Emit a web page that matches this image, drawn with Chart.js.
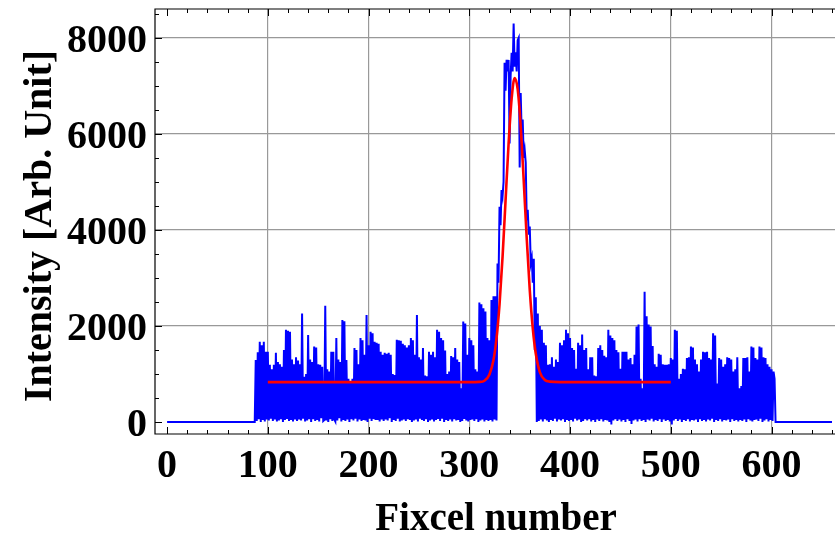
<!DOCTYPE html>
<html>
<head>
<meta charset="utf-8">
<script src="https://cdn.jsdelivr.net/npm/chart.js@4.4.1/dist/chart.umd.min.js"></script>
<style>
  body { margin: 0; background: #fff; }
  canvas { display: block; }
</style>
</head>
<body>
<canvas id="myChart" width="835" height="534"></canvas>
<script>
// axis ticks / titles
const xTicks = [0, 100, 200, 300, 400, 500, 600];
const yTicks = [0, 2000, 4000, 6000, 8000];
const xMinorStep = 20;
const yMinorStep = 500;
const xTitle = 'Fixcel number';
const yTitle = 'Intensity [Arb. Unit]';

// detector is dark (zero) outside these fixcels
const zeroLeft = [0, 87];
const zeroRight = [604, 660];

// measured intensity, one value per fixcel, starting at fixcel 88
const firstFixcel = 88;
const intensity = [
  1290, 20, 1450, 60, 1670, 0, 1600, 40, 1670, 10,
  1460, 50, 1460, 30, 1190, 70, 1100, 20, 1190, 50,
  1440, 10, 1250, 30, 1200, 60, 1150, 0, 1500, 40,
  1920, 60, 1900, 20, 1880, 40, 1300, 10, 1200, 50,
  1350, 20, 1280, 50, 1200, 30, 2260, 70, 940, 10,
  1000, 30, 1810, 60, 1300, 0, 1250, 60, 1570, 20,
  1550, 40, 1200, 10, 1190, 80, 1150, 20, 40, 2420,
  30, 1100, 0, 1050, 60, 1460, 20, 1460, 50, 10,
  1750, 30, 1300, 80, 1250, 10, 2125, 40, 2100, 20,
  1290, 50, 900, 0, 850, 60, 900, 30, 1540, 70,
  1500, 10, 1200, 50, 1750, 20, 1700, 40, 1400, 30,
  2230, 0, 1600, 70, 1880, 20, 1850, 60, 1670, 40,
  1650, 40, 1630, 10, 1460, 50, 1400, 20, 1440, 50,
  1420, 30, 1440, 80, 1400, 0, 1000, 40, 980, 20,
  1710, 70, 1700, 10, 1690, 30, 1630, 50, 1600, 20,
  1550, 60, 1600, 40, 1750, 0, 1700, 30, 1400, 50,
  2230, 10, 1350, 70, 1300, 40, 1540, 20, 970, 60,
  950, 0, 1460, 30, 1400, 50, 1460, 10, 1350, 40,
  1920, 60, 1880, 20, 1750, 70, 1700, 0, 1490, 40,
  1000, 20, 1050, 50, 1375, 10, 1350, 60, 1540, 30,
  1300, 40, 1250, 0, 700, 20, 2090, 60, 2050, 30,
  1400, 10, 1750, 40, 1700, 50, 1600, 20, 1100, 60,
  1050, 0, 2490, 30, 2450, 50, 2370, 10, 2300, 40,
  1750, 20, 1700, 40, 2540, 10, 2620, 50, 2620, 30,
  3300, 2900, 4480, 4100, 4830, 4700, 5000, 7480, 6900, 7540,
  7300, 7540, 5800, 7200, 7690, 7300, 8300, 7400, 7700, 7300,
  7950, 8000, 5300, 6850, 6000, 6300, 5500, 5660, 5400, 4200,
  4420, 3900, 4070, 3300, 3410, 2900, 3400, 1500, 2600, 0,
  2260, 20, 2000, 50, 1920, 10, 1650, 60, 1600, 30,
  1190, 0, 1200, 40, 1350, 20, 1150, 70, 1300, 10,
  1250, 50, 1650, 30, 1600, 60, 1700, 0, 1920, 40,
  1850, 20, 1750, 40, 1540, 10, 1500, 70, 1110, 30,
  1650, 50, 1600, 0, 1820, 20, 1500, 60, 1540, 30,
  1100, 60, 1350, 10, 1350, 40, 970, 0, 950, 50,
  1540, 20, 1600, 60, 1500, 10, 1380, 40, 1350, 30,
  1920, 0, 1800, -50, 1750, 30, 1700, 60, 1500, 20,
  1450, 50, 1110, 10, 1460, 40, 1460, 0, 1460, 60,
  1300, 20, 1330, -40, 1200, 30, 1400, 50, 1990, 10,
  2030, 60, 900, 20, 700, 40, 2710, 0, 2200, 50,
  2030, 30, 1990, 70, 1580, 10, 1200, 40, 1150, 20,
  1420, 60, 1400, 0, 1200, 50, 1190, 20, 1190, 40,
  1200, 10, 1330, -50, 1300, 30, 1920, 60, 1900, 20,
  900, 50, 1000, 0, 1110, 40, 1100, 20, 1330, 60,
  1350, 10, 1570, 40, 1550, 30, 1300, 50, 1200, 0,
  1050, 60, 1300, 20, 1460, 40, 1450, 10, 1460, 50,
  1330, 30, 1300, 70, 1850, 0, 1800, 40, 800, 20,
  1330, 60, 1300, 10, 1150, 40, 1200, 30, 1350, 50,
  1330, 0, 1300, 60, 1050, 20, 1100, 40, 1350, 10,
  700, 40, 750, 20, 1330, 50, 1330, 0, 1350, 60,
  1050, 30, 1570, 10, 1550, 40, 1330, 50, 1300, 20,
  1570, 70, 1550, 0, 1350, 30, 1330, 60, 1200, 10,
  1150, 40, 1100, 20, 1050, 900
];

// gaussian fit (red)
const fitX = [100, 300, 310, 315, 320, 324, 327, 330, 333, 336, 339, 342, 345,
  348, 351, 354, 357, 360, 363, 366, 370, 375, 380, 390, 500];
const fitY = [830, 830, 835, 860, 990, 1290, 1740, 2450, 3440, 4620, 5800, 6730, 7160,
  6930, 6160, 5030, 3820, 2750, 1950, 1420, 1040, 875, 840, 830, 830];

const measured = [
  ...zeroLeft.map(v => ({ x: v, y: 0 })),
  ...intensity.map((v, i) => ({ x: firstFixcel + i, y: v })),
  ...zeroRight.map(v => ({ x: v, y: 0 })),
];
const fit = fitX.map((v, i) => ({ x: v, y: fitY[i] }));

const serif = '"Liberation Serif", "Times New Roman", serif';

// Mathematica-like frame: inward ticks, bold serif labels
const framePlugin = {
  id: 'frame',
  afterDraw(chart) {
    const { ctx, chartArea: a, scales: { x, y } } = chart;
    ctx.save();
    ctx.strokeStyle = '#000';
    ctx.lineWidth = 1.2;
    ctx.beginPath();
    ctx.moveTo(a.right, a.top);
    ctx.lineTo(a.left, a.top);
    ctx.lineTo(a.left, a.bottom);
    ctx.lineTo(a.right, a.bottom);
    ctx.stroke();

    ctx.lineWidth = 1;
    ctx.beginPath();
    for (let v = 0; v <= x.max; v += xMinorStep) {
      const px = Math.round(x.getPixelForValue(v)) + 0.5;
      const len = v % 100 === 0 ? 7 : 4;
      ctx.moveTo(px, a.bottom); ctx.lineTo(px, a.bottom - len);
      ctx.moveTo(px, a.top); ctx.lineTo(px, a.top + len);
    }
    for (let v = 0; v <= y.max; v += yMinorStep) {
      const py = Math.round(y.getPixelForValue(v)) + 0.5;
      const len = v % 2000 === 0 ? 7 : 4;
      ctx.moveTo(a.left, py); ctx.lineTo(a.left + len, py);
    }
    ctx.stroke();

    ctx.fillStyle = '#000';
    ctx.font = 'bold 40px ' + serif;
    ctx.textBaseline = 'alphabetic';
    ctx.textAlign = 'center';
    xTicks.forEach(v => ctx.fillText(String(v), x.getPixelForValue(v), 477));
    ctx.textAlign = 'right';
    yTicks.forEach(v => ctx.fillText(String(v), 147, y.getPixelForValue(v) + 14));

    ctx.font = 'bold 39px ' + serif;
    ctx.textAlign = 'center';
    ctx.fillText(xTitle, 496, 530);
    ctx.font = 'bold 40px ' + serif;
    ctx.translate(51, 226);
    ctx.rotate(-Math.PI / 2);
    ctx.fillText(yTitle, 0, 0);
    ctx.restore();
  }
};

const gridColor = c => (c.tick && c.tick.value === 0 ? 'rgba(0,0,0,0)' : '#999999');

new Chart(document.getElementById('myChart').getContext('2d'), {
  type: 'line',
  data: {
    datasets: [
      {
        data: fit,
        borderColor: '#ff0000',
        borderWidth: 2.6,
        pointRadius: 0,
        cubicInterpolationMode: 'monotone',
        order: 0,
      },
      {
        data: measured,
        borderColor: '#0000ff',
        borderWidth: 2,
        pointRadius: 0,
        tension: 0,
        order: 1,
      },
    ]
  },
  options: {
    responsive: false,
    animation: false,
    devicePixelRatio: 1,
    layout: { padding: { top: 9, right: 0, bottom: 0, left: 0 } },
    plugins: { legend: { display: false }, tooltip: { enabled: false } },
    scales: {
      x: {
        type: 'linear',
        min: -12,
        max: 663,
        afterBuildTicks: s => { s.ticks = xTicks.map(v => ({ value: v })); },
        afterFit: s => { s.height = 100; },
        ticks: { display: false },
        grid: { drawTicks: false, color: gridColor, lineWidth: 1.2 },
        border: { display: false },
      },
      y: {
        type: 'linear',
        min: -250,
        max: 8600,
        afterBuildTicks: s => { s.ticks = yTicks.map(v => ({ value: v })); },
        afterFit: s => { s.width = 155; },
        ticks: { display: false },
        grid: { drawTicks: false, color: gridColor, lineWidth: 1.2 },
        border: { display: false },
      }
    }
  },
  plugins: [framePlugin]
});
</script>
</body>
</html>
